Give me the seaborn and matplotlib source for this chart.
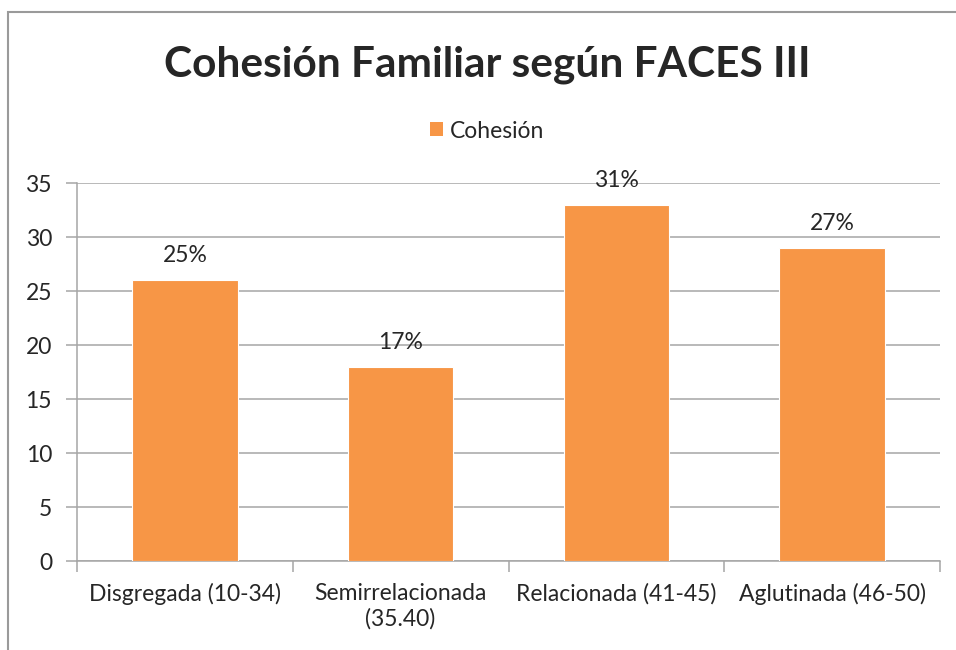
import matplotlib
matplotlib.use("Agg")
import matplotlib.pyplot as plt
import seaborn as sns
import pandas as pd
from matplotlib.patches import Rectangle, Patch
from matplotlib.ticker import FixedLocator

categories = ["Disgregada (10-34)", "Semirrelacionada\n(35.40)", "Relacionada (41-45)", "Aglutinada (46-50)"]
values = [26, 18, 33, 29]
labels = ["25%", "17%", "31%", "27%"]
series_name = "Cohesión"
title = "Cohesión Familiar según FACES III"

sns.set_theme(style="white")
plt.rcParams['font.family'] = ['Lato', 'DejaVu Sans']

df = pd.DataFrame({"cat": categories, "val": values})
orange = "#F79646"
grid = "#A6A6A6"
txt = "#262626"
fs = 16.5

fig = plt.figure(figsize=(9.56, 6.5), dpi=100)
ax = fig.add_axes([77/956, 1-561/650, (940-77)/956, (561-183)/650])

sns.barplot(data=df, x="cat", y="val", color=orange, width=0.49, ax=ax,
            saturation=1, edgecolor="white", linewidth=0.8, zorder=3)

ax.set_ylim(0, 35)
ax.set_xlim(-0.5, 3.5)
ax.set_yticks(range(0, 36, 5))
ax.yaxis.grid(True, color=grid, linewidth=1.1, zorder=0)
ax.set_axisbelow(True)
ax.set_xlabel("")
ax.set_ylabel("")
for s in ["top", "right"]:
    ax.spines[s].set_visible(False)
for s in ["left", "bottom"]:
    ax.spines[s].set_color(grid)
    ax.spines[s].set_linewidth(1.1)

ax.tick_params(axis="y", which="major", length=8, width=1.1, color=grid, direction="out",
               labelsize=fs, labelcolor=txt, pad=10, left=True)
ax.tick_params(axis="x", which="major", length=0, labelsize=fs, labelcolor=txt, pad=16)
ax.xaxis.set_minor_locator(FixedLocator([-0.5, 0.5, 1.5, 2.5, 3.5]))
ax.tick_params(axis="x", which="minor", length=8, width=1.1, color=grid, direction="out", bottom=True)

for i, (v, l) in enumerate(zip(values, labels)):
    ax.annotate(l, (i, v), xytext=(0, 10), textcoords="offset points",
                ha="center", va="bottom", fontsize=fs, color=txt)

fig.text(487/956, 1-65/650, title, ha="center", va="center", fontsize=30.5,
         fontweight="bold", color=txt)

handle = Patch(facecolor=orange, edgecolor="none")
fig.legend([handle], [series_name], loc="center", bbox_to_anchor=(487/956, 1-131/650),
           frameon=False, fontsize=fs, handlelength=0.55, handleheight=0.55,
           handletextpad=0.3, labelcolor=txt)

fig.patches.append(Rectangle((8/956, -0.1), 2, (1-12/650)+0.1, transform=fig.transFigure,
                             fill=False, edgecolor="#9A9A9A", linewidth=1.5))

fig.savefig("out.png", dpi=100)
